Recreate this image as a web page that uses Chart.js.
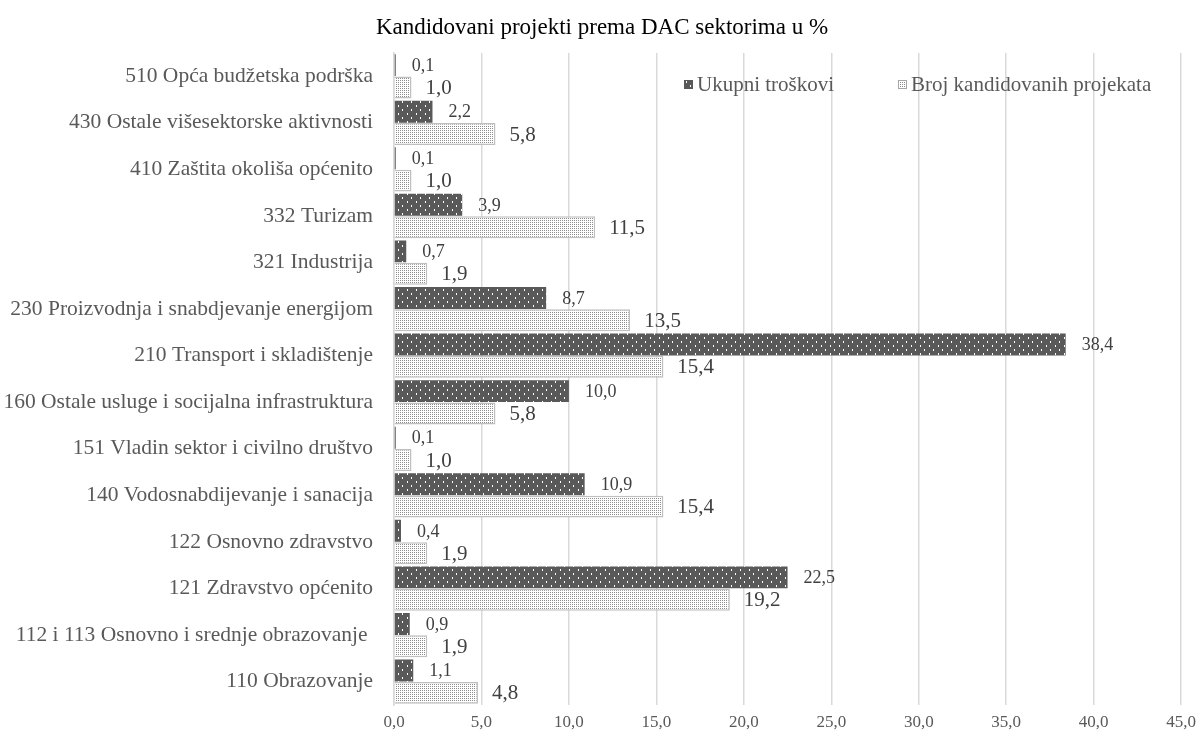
<!DOCTYPE html>
<html><head><meta charset="utf-8">
<script src="https://cdn.jsdelivr.net/npm/chart.js@4/dist/chart.umd.min.js"></script>
<style>html,body{margin:0;padding:0;background:#fff;}#wrap{width:1203px;height:735px;position:relative;}</style>
</head><body><div id="wrap"><canvas id="c" width="1203" height="735"></canvas></div>
<script>
const titleText = 'Kandidovani projekti prema DAC sektorima u %';
const categories = [
 '510 Opća budžetska podrška',
 '430 Ostale višesektorske aktivnosti',
 '410 Zaštita okoliša općenito',
 '332 Turizam',
 '321 Industrija',
 '230 Proizvodnja i snabdjevanje energijom',
 '210 Transport i skladištenje',
 '160 Ostale usluge i socijalna infrastruktura',
 '151 Vladin sektor i civilno društvo',
 '140 Vodosnabdijevanje i sanacija',
 '122 Osnovno zdravstvo',
 '121 Zdravstvo općenito',
 '112 i 113 Osnovno i srednje obrazovanje ',
 '110 Obrazovanje'
];
const seriesNames = ['Ukupni troškovi', 'Broj kandidovanih projekata'];
const ukupniTroskovi = [0.1, 2.2, 0.1, 3.9, 0.7, 8.7, 38.4, 10.0, 0.1, 10.9, 0.4, 22.5, 0.9, 1.1];
const brojProjekata = [1.0, 5.8, 1.0, 11.5, 1.9, 13.5, 15.4, 5.8, 1.0, 15.4, 1.9, 19.2, 1.9, 4.8];
const xTicks = [0, 5, 10, 15, 20, 25, 30, 35, 40, 45];

const SERIF = '"Liberation Serif", "Times New Roman", serif';

function makePattern(kind) {
  const t = document.createElement('canvas');
  const ctx = t.getContext('2d');
  if (kind === 'dark') {
    t.width = 9; t.height = 8;
    ctx.fillStyle = '#595959'; ctx.fillRect(0, 0, 9, 8);
    ctx.fillStyle = '#ffffff';
    ctx.fillRect(2, 1, 1, 2);
    ctx.fillRect(6, 5, 1, 2);
  } else {
    t.width = 4; t.height = 4;
    ctx.fillStyle = '#ffffff'; ctx.fillRect(0, 0, 4, 4);
    ctx.fillStyle = '#8c8c8c';
    ctx.fillRect(0, 0, 1, 1); ctx.fillRect(2, 0, 1, 1);
    ctx.fillRect(0, 2, 1, 1); ctx.fillRect(2, 2, 1, 1);
  }
  return document.getElementById('c').getContext('2d').createPattern(t, 'repeat');
}
const darkPat = makePattern('dark');
const lightPat = makePattern('light');

const fmt = v => v.toFixed(1).replace('.', ',');

const labelPlugin = {
  id: 'valLabels',
  afterDatasetsDraw(chart) {
    const ctx = chart.ctx;
    ctx.save();
    chart.data.datasets.forEach((ds, di) => {
      const meta = chart.getDatasetMeta(di);
      meta.data.forEach((bar, i) => {
        const v = ds.data[i];
        ctx.fillStyle = '#404040';
        ctx.font = (di === 0 ? '18px ' : '21px ') + SERIF;
        ctx.textAlign = 'left';
        ctx.textBaseline = 'middle';
        ctx.fillText(fmt(v), bar.x + (di === 0 ? 16 : 14), bar.y + 1);
      });
    });
    ctx.restore();
  }
};

const titleLegendPlugin = {
  id: 'titleLegend',
  afterDraw(chart) {
    const ctx = chart.ctx;
    ctx.save();
    ctx.fillStyle = '#000000';
    ctx.font = '23px ' + SERIF;
    ctx.textAlign = 'center';
    ctx.textBaseline = 'middle';
    ctx.fillText(titleText, 602, 28);
    // legend
    const items = [
      {x: 684, fill: darkPat, stroke: null},
      {x: 898, fill: lightPat, stroke: '#a6a6a6'}
    ];
    ctx.font = '21px ' + SERIF;
    ctx.textAlign = 'left';
    items.forEach((it, i) => {
      ctx.fillStyle = it.fill;
      ctx.fillRect(it.x, 80, 9, 9);
      if (it.stroke) { ctx.strokeStyle = it.stroke; ctx.lineWidth = 1; ctx.strokeRect(it.x + 0.5, 80.5, 8, 8); }
      ctx.fillStyle = '#595959';
      ctx.fillText(chart.data.datasets[i].label, it.x + 13, 85);
    });
    ctx.restore();
  }
};

new Chart(document.getElementById('c'), {
  type: 'bar',
  data: {
    labels: categories,
    datasets: [
      {label: seriesNames[0], data: ukupniTroskovi, backgroundColor: darkPat, borderWidth: 0},
      {label: seriesNames[1], data: brojProjekata, backgroundColor: lightPat, borderColor: '#bfbfbf', borderWidth: 1.5}
    ]
  },
  options: {
    indexAxis: 'y',
    responsive: false,
    animation: false,
    layout: {padding: {top: 53, right: 19, left: 0, bottom: 0}},
    plugins: {legend: {display: false}, title: {display: false}, tooltip: {enabled: false}},
    datasets: {bar: {categoryPercentage: 0.96, barPercentage: 0.98}},
    scales: {
      x: {
        min: 0, max: 45,
        afterBuildTicks(scale) { scale.ticks = xTicks.map(v => ({value: v})); },
        afterFit(scale) { scale.height = 30; },
        grid: {color: '#d9d9d9', lineWidth: 1.5, drawTicks: false},
        border: {display: false},
        ticks: {color: '#595959', font: {family: SERIF, size: 17}, padding: 7, callback: v => fmt(v)}
      },
      y: {
        afterFit(scale) { scale.width = 394; },
        grid: {display: false},
        border: {display: true, color: '#d9d9d9', width: 1.5},
        ticks: {color: '#595959', font: {family: SERIF, size: 21.5}, padding: 13}
      }
    }
  },
  plugins: [labelPlugin, titleLegendPlugin]
});
</script></body></html>
